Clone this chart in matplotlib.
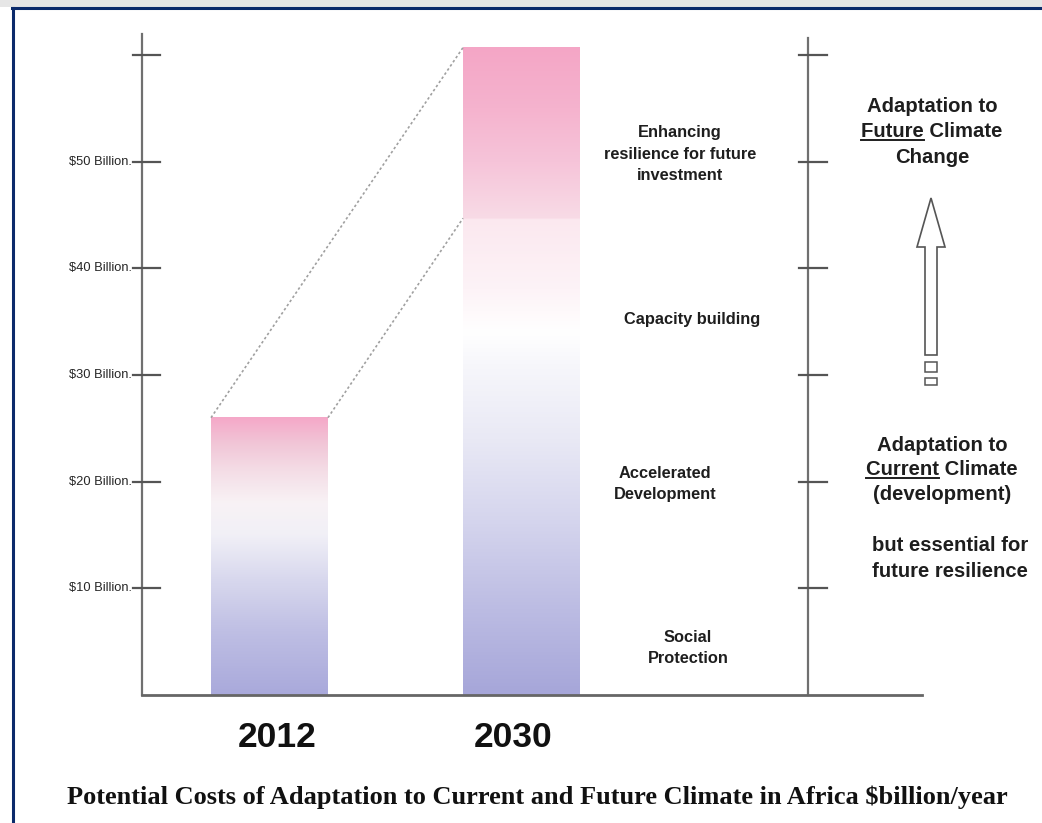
import numpy as np
import matplotlib
matplotlib.use('Agg')
import matplotlib.pyplot as plt
from matplotlib.lines import Line2D
from matplotlib.patches import Polygon, Rectangle

# ---- data (billion USD / year) ----
years = ['2012', '2030']
bar_totals = [26.0, 60.7]
future_start_2030 = 44.7          # start of "Enhancing resilience" block in 2030
tick_values = [10, 20, 30, 40, 50]
tick_labels = ['$10 Billion.', '$20 Billion.', '$30 Billion.', '$40 Billion.', '$50 Billion.']
right_ticks = [10, 20, 30, 40, 50, 60]
left_ticks = [10, 20, 30, 40, 50, 60]
axis_top = 62.0

segment_labels = ['Social\nProtection', 'Accelerated\nDevelopment',
                  'Capacity building', 'Enhancing\nresilience for future\ninvestment']
segment_label_y = [4.4, 19.8, 35.25, 50.7]
segment_label_x = [1.661, 1.569, 1.677, 1.629]

title = 'Potential Costs of Adaptation to Current and Future Climate in Africa $billion/year'

# gradient colour stops per bar (value, colour)
grad_2012 = [(0, '#a9a9db'), (6, '#bfbfe4'), (11, '#d9d9ee'), (15, '#f1f0f7'),
             (18, '#f8f2f5'), (21, '#f4dde6'), (23.5, '#f1c6d7'), (26, '#f5a8c8')]
grad_2030 = [(0, '#a6a6d9'), (8, '#bcbce3'), (16, '#d4d4ed'), (24, '#e9e9f5'),
             (31, '#f7f7fb'), (34, '#ffffff'), (38, '#fdf3f7'), (44.69, '#fbe8ef'),
             (44.71, '#f8dbe6'), (50, '#f6c4d9'), (55, '#f5b3ce'), (60.7, '#f4a6c6')]

W, H = 1042, 823
fig = plt.figure(figsize=(W / 100, H / 100), dpi=100)
ax = fig.add_axes([0, 0, 1, 1])
ax.set_xlim(-1.0694, 3.0655)
ax.set_ylim(-12.0, 65.16)
ax.axis('off')

bar_x = np.arange(len(years))
bar_w = 0.464


def gradient_image(stops, top):
    v = np.linspace(0, top, 400)
    vals = [s[0] for s in stops]
    rgb = np.array([matplotlib.colors.to_rgb(s[1]) for s in stops])
    img = np.stack([np.interp(v, vals, rgb[:, k]) for k in range(3)], axis=-1)
    return img[:, None, :]


for xi, top, stops in zip(bar_x, bar_totals, [grad_2012, grad_2030]):
    ax.imshow(gradient_image(stops, top), extent=[xi - bar_w / 2, xi + bar_w / 2, 0, top],
              origin='lower', aspect='auto', interpolation='bilinear', zorder=2)

# dotted connectors between the bars
ax.plot([bar_x[0] - bar_w / 2, bar_x[1] - bar_w / 2], [bar_totals[0], bar_totals[1]],
        ls=(0, (1.5, 1.5)), color='#a0a0a0', lw=1.2, zorder=3)
ax.plot([bar_x[0] + bar_w / 2, bar_x[1] - bar_w / 2], [bar_totals[0], future_start_2030],
        ls=(0, (1.5, 1.5)), color='#a0a0a0', lw=1.2, zorder=3)

# left axis
axc = '#707070'
x_left = -0.506
ax.plot([x_left, x_left], [0, axis_top], color=axc, lw=1.6, zorder=4)
for v in left_ticks:
    ax.plot([x_left - 0.036, x_left + 0.071], [v, v], color='#555555', lw=1.6, zorder=4)
for v, lab in zip(tick_values, tick_labels):
    ax.text(-0.5456, v, lab, ha='right', va='center', fontsize=9.3,
            family='Liberation Sans', color='#262626')

# right axis
x_right = 2.137
ax.plot([x_right, x_right], [0, 61.6], color=axc, lw=1.6, zorder=4)
for v in right_ticks:
    ax.plot([x_right - 0.036, x_right + 0.075], [v, v], color='#555555', lw=1.6, zorder=4)

# baseline
ax.plot([x_left, 2.589], [0, 0], color='#666666', lw=2.0, zorder=5)

# segment labels
for lab, lx, ly in zip(segment_labels, segment_label_x, segment_label_y):
    ax.text(lx, ly, lab, ha='center', va='center', fontsize=11.8, fontweight='bold',
            family='Liberation Sans', color='#1e1e1e', linespacing=1.52)

# year labels (slightly offset from bar centres as in the original)
year_offsets = [0.03, -0.034]
for xi, yr, off in zip(bar_x, years, year_offsets):
    ax.text(xi + off, -4.03, yr, ha='center', va='center', fontsize=25.5,
            fontweight='bold', family='Liberation Sans', color='#111111')

ax.text(1.065, -9.56, title, ha='center', va='center', fontsize=19, fontweight='bold',
        family='Liberation Serif', color='#111111')

# right-hand explanatory text, one line at a time so words can be underlined
rprops = dict(ha='center', va='center', fontsize=14.6, fontweight='bold',
              family='Liberation Sans', color='#1e1e1e')
right_lines = [
    (2.629, 55.2, 'Adaptation to', None),
    (2.629, 52.8, 'Future Climate', 'Future'),
    (2.629, 50.4, 'Change', None),
    (2.669, 23.4, 'Adaptation to', None),
    (2.669, 21.1, 'Current Climate', 'Current'),
    (2.669, 18.8, '(development)', None),
    (2.70, 14.0, 'but essential for', None),
    (2.70, 11.6, 'future resilience', None),
]
renderer = fig.canvas.get_renderer()
for lx, ly, s, ul in right_lines:
    t = ax.text(lx, ly, s, **rprops)
    if ul:
        bb = t.get_window_extent(renderer)
        tmp = ax.text(lx, ly, ul, **rprops)
        wb = tmp.get_window_extent(renderer)
        tmp.remove()
        y_ul = bb.y0 + 1
        fig.add_artist(Line2D([bb.x0 / W, (bb.x0 + wb.width) / W], [y_ul / H, y_ul / H],
                              transform=fig.transFigure, color='#1e1e1e', lw=1.4))


def px(x, y):
    return (x / W, 1 - y / H)


# hollow arrow with small boxes below
arrow = [px(931, 198), px(945, 247), px(937, 247), px(937, 355), px(925, 355),
         px(925, 247), px(917, 247)]
fig.add_artist(Polygon(arrow, closed=True, transform=fig.transFigure, fc='white',
                       ec='#555555', lw=1.2))
for y0, y1 in [(362, 372), (378, 385)]:
    x0, yy0 = px(925, y1)
    fig.add_artist(Rectangle((x0, yy0), 12 / W, (y1 - y0) / H, transform=fig.transFigure,
                             fc='white', ec='#555555', lw=1.1))

# page frame: grey shadow strip and navy border
fig.add_artist(Rectangle((0, 1 - 7 / H), 1, 7 / H, transform=fig.transFigure,
                         fc='#e6e6e6', ec='none'))
fig.add_artist(Line2D([12 / W, 1], [1 - 7.5 / H, 1 - 7.5 / H], transform=fig.transFigure,
                      color='#0b2a6b', lw=2.2))
fig.add_artist(Line2D([12.5 / W, 12.5 / W], [0, 1 - 7.5 / H], transform=fig.transFigure,
                      color='#0b2a6b', lw=2.2))

fig.savefig('out.png', dpi=100)
